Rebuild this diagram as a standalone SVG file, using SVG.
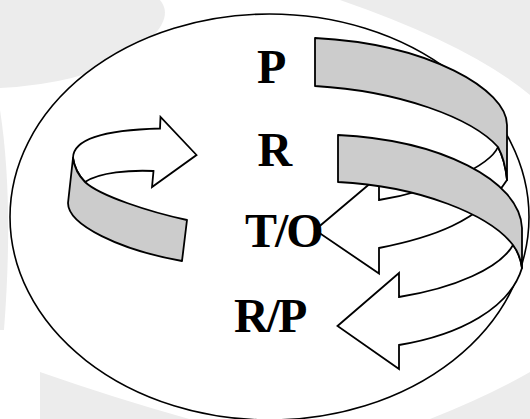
<svg xmlns="http://www.w3.org/2000/svg" width="530" height="419" viewBox="0 0 530 419">
  <style>
    .shade { fill: #ececec; stroke: none; }
    .outline { fill: #ffffff; stroke: #000000; stroke-width: 1.6; }
    .band { fill: #ffffff; stroke: #000000; stroke-width: 1.8; stroke-linejoin: miter; }
    .ribbon { fill: #cccccc; stroke: #000000; stroke-width: 1.8; stroke-linejoin: round; }
    .label { font-family: "Liberation Serif", "Times New Roman", serif; font-weight: bold; font-size: 48px; fill: #000000; }
  </style>

  <!-- faint backdrop shapes -->
  <g id="backdrop">
    <path class="shade" d="M0,0 L160,0 Q178,22 130,55 Q80,84 0,88 Z"/>
    <path class="shade" d="M340,0 L530,0 L530,95 Q470,45 340,0 Z"/>
    <path class="shade" d="M0,110 Q14,200 4,330 L0,330 Z"/>
    <path class="shade" d="M40,372 Q120,400 200,422 L40,422 Z"/>
    <path class="shade" d="M430,419 Q490,395 530,372 L530,419 Z"/>
  </g>

  <!-- outer boundary -->
  <g id="boundary">
    <ellipse class="outline" cx="269.5" cy="217" rx="259.5" ry="203"/>
  </g>

  <g id="connectors">
    <!-- left loop: white arrow band with grey ribbon -->
    <g id="loop-left">
      <path class="band" d="M73,158 C73,140 100,130 160,128.5 L160.5,117 L196.5,155 L152,187 L153.5,171 C130,170 100,172 85,182 Q75,172 73,158 Z"/>
      <path class="ribbon" d="M73,158 L68,203 C68,225 120,250 182,261 L187,220 C150,212 100,196 85,182 Q75,172 73,158 Z"/>
    </g>

    <!-- upper right loop: from P back to T/O -->
    <g id="loop-upper">
      <path class="band" d="M507,180 C480,222 430,238 379,248 L379,273.5 L315,230 L379,176 L379,200 C440,190 490,165 498,147 Q505,160 507,180 Z"/>
      <path class="ribbon" d="M315,38 L315,86 C400,91 472,118 498,147 Q505,160 507,180 L507,125 C507,90 430,44 315,38 Z"/>
    </g>

    <!-- lower right loop: from R back to R/P -->
    <g id="loop-lower">
      <path class="band" d="M522,268 C510,308 460,335 399,345 L399,369 L337.5,326 L399,273 L399,297 C455,288 500,268 513,245 Q520,254 522,268 Z"/>
      <path class="ribbon" d="M338,135 L338,182 C420,186 490,215 513,245 Q520,254 522,268 L522,228 C520,180 440,140 338,135 Z"/>
    </g>
  </g>

  <!-- stage labels -->
  <g id="node-p"><text class="label" x="257" y="83">P</text></g>
  <g id="node-r"><text class="label" x="257.5" y="166">R</text></g>
  <g id="node-to"><text class="label" x="245" y="247" letter-spacing="-2">T/O</text></g>
  <g id="node-rp"><text class="label" x="234" y="332" letter-spacing="-2">R/P</text></g>
</svg>
